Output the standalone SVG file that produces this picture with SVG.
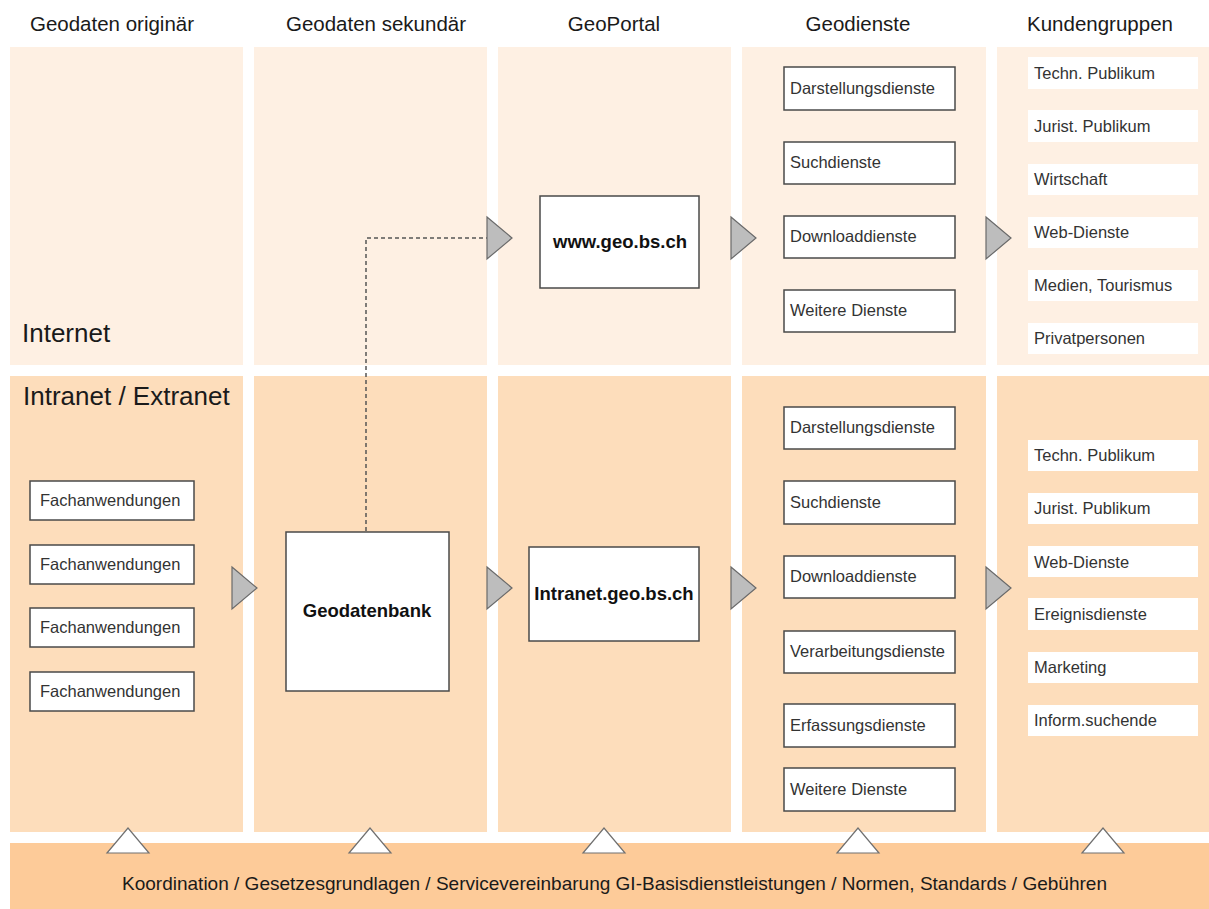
<svg xmlns="http://www.w3.org/2000/svg" width="1209" height="909" viewBox="0 0 1209 909">
<style>
text{font-family:"Liberation Sans",Arial,sans-serif;fill:#1a1a1a}
.top{fill:#FEF0E3}
.bot{fill:#FDDDBB}
.bar{fill:#FDCB99}
.hd{font-size:20.5px;text-anchor:middle}
.zone{font-size:26px}
.box{fill:#fff;stroke:#4a4a4a;stroke-width:1.5}
.wb{fill:#fff}
.t{font-size:16.5px;fill:#333}
.big{font-size:18.5px;font-weight:bold;text-anchor:middle;fill:#111}
.arr{fill:#BDBDBD;stroke:#6a6a6a;stroke-width:1.2}
.up{fill:#fff;stroke:#707070;stroke-width:1.2}
</style>
<rect width="1209" height="909" fill="#fff"/>
<g id="panels">
<rect class="top" x="10" y="47" width="233" height="318"/>
<rect class="top" x="254" y="47" width="233" height="318"/>
<rect class="top" x="498" y="47" width="233" height="318"/>
<rect class="top" x="742" y="47" width="244" height="318"/>
<rect class="top" x="997" y="47" width="212" height="318"/>
<rect class="bot" x="10" y="376" width="233" height="456"/>
<rect class="bot" x="254" y="376" width="233" height="456"/>
<rect class="bot" x="498" y="376" width="233" height="456"/>
<rect class="bot" x="742" y="376" width="244" height="456"/>
<rect class="bot" x="997" y="376" width="212" height="456"/>
<rect class="bar" x="10" y="843" width="1199" height="66"/>
</g>
<g id="headers">
<text class="hd" x="112" y="31">Geodaten originär</text>
<text class="hd" x="376" y="31">Geodaten sekundär</text>
<text class="hd" x="614" y="31">GeoPortal</text>
<text class="hd" x="858" y="31">Geodienste</text>
<text class="hd" x="1100" y="31">Kundengruppen</text>
<text class="zone" x="22" y="342">Internet</text>
<text class="zone" x="23" y="405">Intranet / Extranet</text>
<text x="122" y="890" font-size="18.5" textLength="985" lengthAdjust="spacingAndGlyphs">Koordination / Gesetzesgrundlagen / Servicevereinbarung GI-Basisdienstleistungen / Normen, Standards / Gebühren</text>
</g>
<g id="connectors">
<path d="M366 531 V238 H487" fill="none" stroke="#555" stroke-width="1.5" stroke-dasharray="4,3"/>
<polygon class="arr" points="487,217 512,238 487,259"/>
<polygon class="arr" points="731,217 756,238 731,259"/>
<polygon class="arr" points="986,217 1011,238 986,259"/>
<polygon class="arr" points="232,567 257,588 232,609"/>
<polygon class="arr" points="487,567 512,588 487,609"/>
<polygon class="arr" points="731,567 756,588 731,609"/>
<polygon class="arr" points="986,567 1011,588 986,609"/>
<polygon class="up" points="107,853 128,828 149,853"/>
<polygon class="up" points="349,853 370,828 391,853"/>
<polygon class="up" points="583,853 604,828 625,853"/>
<polygon class="up" points="837,853 858,828 879,853"/>
<polygon class="up" points="1082,853 1103,828 1124,853"/>
</g>
<g id="fach1"><rect class="box" x="30" y="481" width="164" height="39"/><text class="t" x="40" y="506">Fachanwendungen</text></g>
<g id="fach2"><rect class="box" x="30" y="545" width="164" height="39"/><text class="t" x="40" y="570">Fachanwendungen</text></g>
<g id="fach3"><rect class="box" x="30" y="608" width="164" height="39"/><text class="t" x="40" y="633">Fachanwendungen</text></g>
<g id="fach4"><rect class="box" x="30" y="672" width="164" height="39"/><text class="t" x="40" y="697">Fachanwendungen</text></g>
<g id="geodatenbank"><rect class="box" x="286" y="532" width="163" height="159"/><text class="big" x="367" y="617">Geodatenbank</text></g>
<g id="www"><rect class="box" x="540" y="196" width="159" height="92"/><text class="big" x="620" y="248">www.geo.bs.ch</text></g>
<g id="intranet"><rect class="box" x="529" y="547" width="170" height="94"/><text class="big" x="614" y="600">Intranet.geo.bs.ch</text></g>
<g id="gd-top-1"><rect class="box" x="784" y="67" width="171" height="43"/><text class="t" x="790" y="94">Darstellungsdienste</text></g>
<g id="gd-top-2"><rect class="box" x="784" y="142" width="171" height="42"/><text class="t" x="790" y="168">Suchdienste</text></g>
<g id="gd-top-3"><rect class="box" x="784" y="216" width="171" height="42"/><text class="t" x="790" y="242">Downloaddienste</text></g>
<g id="gd-top-4"><rect class="box" x="784" y="290" width="171" height="42"/><text class="t" x="790" y="316">Weitere Dienste</text></g>
<g id="gd-bot-1"><rect class="box" x="784" y="407" width="171" height="42"/><text class="t" x="790" y="433">Darstellungsdienste</text></g>
<g id="gd-bot-2"><rect class="box" x="784" y="481" width="171" height="43"/><text class="t" x="790" y="508">Suchdienste</text></g>
<g id="gd-bot-3"><rect class="box" x="784" y="556" width="171" height="42"/><text class="t" x="790" y="582">Downloaddienste</text></g>
<g id="gd-bot-4"><rect class="box" x="784" y="631" width="171" height="42"/><text class="t" x="790" y="657">Verarbeitungsdienste</text></g>
<g id="gd-bot-5"><rect class="box" x="784" y="704" width="171" height="43"/><text class="t" x="790" y="731">Erfassungsdienste</text></g>
<g id="gd-bot-6"><rect class="box" x="784" y="768" width="171" height="43"/><text class="t" x="790" y="795">Weitere Dienste</text></g>
<g id="kg-top-1"><rect class="wb" x="1028" y="57" width="170" height="32"/><text class="t" x="1034" y="79">Techn. Publikum</text></g>
<g id="kg-top-2"><rect class="wb" x="1028" y="110" width="170" height="32"/><text class="t" x="1034" y="132">Jurist. Publikum</text></g>
<g id="kg-top-3"><rect class="wb" x="1028" y="164" width="170" height="31"/><text class="t" x="1034" y="185">Wirtschaft</text></g>
<g id="kg-top-4"><rect class="wb" x="1028" y="217" width="170" height="31"/><text class="t" x="1034" y="238">Web-Dienste</text></g>
<g id="kg-top-5"><rect class="wb" x="1028" y="270" width="170" height="31"/><text class="t" x="1034" y="291">Medien, Tourismus</text></g>
<g id="kg-top-6"><rect class="wb" x="1028" y="323" width="170" height="31"/><text class="t" x="1034" y="344">Privatpersonen</text></g>
<g id="kg-bot-1"><rect class="wb" x="1028" y="440" width="170" height="31"/><text class="t" x="1034" y="461">Techn. Publikum</text></g>
<g id="kg-bot-2"><rect class="wb" x="1028" y="493" width="170" height="31"/><text class="t" x="1034" y="514">Jurist. Publikum</text></g>
<g id="kg-bot-3"><rect class="wb" x="1028" y="546" width="170" height="31"/><text class="t" x="1034" y="568">Web-Dienste</text></g>
<g id="kg-bot-4"><rect class="wb" x="1028" y="598" width="170" height="32"/><text class="t" x="1034" y="620">Ereignisdienste</text></g>
<g id="kg-bot-5"><rect class="wb" x="1028" y="652" width="170" height="31"/><text class="t" x="1034" y="673">Marketing</text></g>
<g id="kg-bot-6"><rect class="wb" x="1028" y="705" width="170" height="31"/><text class="t" x="1034" y="726">Inform.suchende</text></g>
</svg>
